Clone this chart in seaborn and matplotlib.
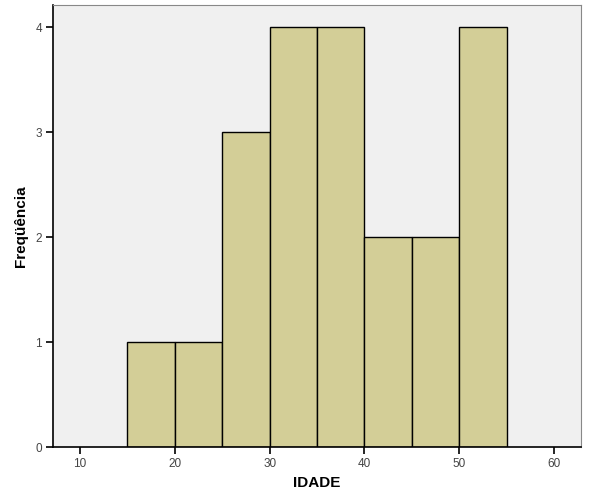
import matplotlib
matplotlib.use("Agg")
import matplotlib.pyplot as plt
import seaborn as sns

# Histograma da idade (bins de 5 anos)
bin_centers = [17.5, 22.5, 27.5, 32.5, 37.5, 42.5, 47.5, 52.5]
frequencias = [1, 1, 3, 4, 4, 2, 2, 4]
bin_edges = [15, 20, 25, 30, 35, 40, 45, 50, 55]
x_ticks = [10, 20, 30, 40, 50, 60]
y_ticks = [0, 1, 2, 3, 4]

sns.set_style("white")
plt.rcParams['font.family'] = ['Liberation Sans', 'DejaVu Sans']

fig = plt.figure(figsize=(5.96, 5.0), dpi=100)
ax = fig.add_axes([0.089, 0.106, 0.886, 0.884])
ax.set_facecolor('#f0f0f0')

sns.histplot(x=bin_centers, weights=frequencias, bins=bin_edges, ax=ax,
             color='#d3ce97', alpha=1, edgecolor='black', linewidth=1)

ax.set_xlim(7.15, 62.85)
ax.set_ylim(0, 4.21)
ax.set_xticks(x_ticks)
ax.set_yticks(y_ticks)
ax.tick_params(axis='both', bottom=True, left=True, direction='out',
               length=5, width=1.2, pad=3, colors='black',
               labelsize=8.5, labelcolor='#444444')
ax.set_xlabel('IDADE', fontsize=11, fontweight='bold', labelpad=4, color='black')
ax.set_ylabel('Freqüência', fontsize=11, fontweight='bold', labelpad=5, color='black')

ax.spines['left'].set_color('black')
ax.spines['bottom'].set_color('black')
ax.spines['left'].set_linewidth(1.2)
ax.spines['bottom'].set_linewidth(1.2)
ax.spines['top'].set_color('#888888')
ax.spines['right'].set_color('#888888')

fig.savefig('out.png', dpi=100)
